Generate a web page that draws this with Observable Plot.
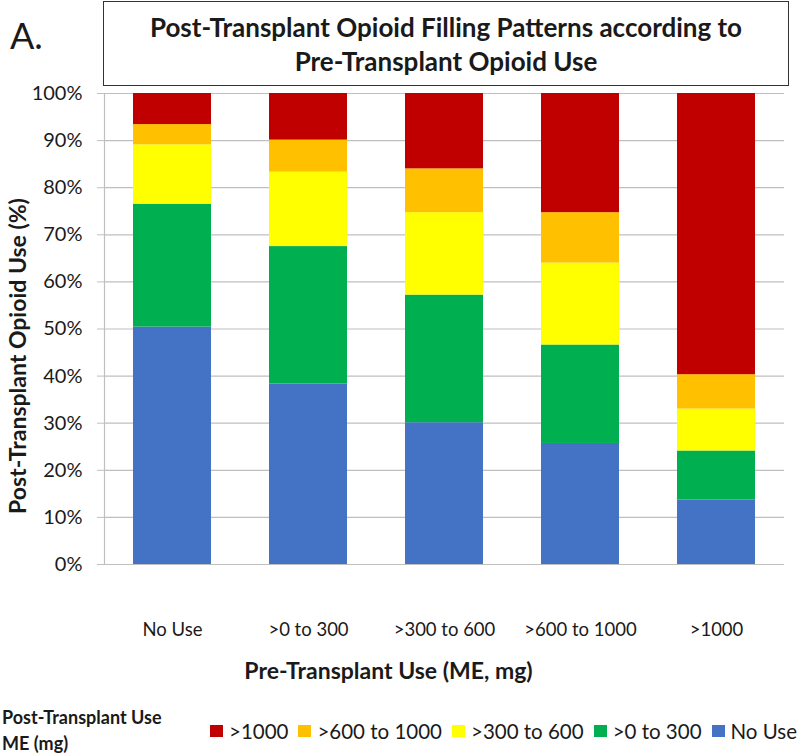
<!DOCTYPE html>
<html>
<head>
<meta charset="utf-8">
<script src="https://cdn.jsdelivr.net/npm/d3@7"></script>
<script src="https://cdn.jsdelivr.net/npm/@observablehq/plot@0.6"></script>
<style>
  body { margin: 0; background: #fff; font-family: Lato, "Open Sans", sans-serif; color: #1a1a1a; }
  #wrap { position: relative; width: 800px; height: 753px; overflow: hidden; }
  #panel { position: absolute; left: 10px; top: 17px; font-size: 36px; line-height: 1; }
  #titlebox { position: absolute; left: 103px; top: 1px; width: 686px; height: 85px; border: 1.5px solid #333;
    box-sizing: border-box; display: flex; align-items: center; justify-content: center; text-align: center;
    font-weight: bold; font-size: 26px; line-height: 34px; }
  #legtitle { position: absolute; left: 2px; top: 704px; font-weight: bold; font-size: 18px; line-height: 26px; white-space: nowrap; }
  #legend { position: absolute; left: 210px; top: 719px; display: flex; font-size: 20.5px; line-height: 24px; align-items: center; white-space: nowrap; }
  .item { display: flex; align-items: center; margin-right: 10px; }
  .sw { width: 13px; height: 12px; margin-right: 6px; }
  svg text { font-family: Lato, "Open Sans", sans-serif; }
</style>
</head>
<body>
<div id="wrap">
  <div id="chart"></div>
  <div id="panel">A.</div>
  <div id="titlebox"><div>Post-Transplant Opioid Filling Patterns according to<br>Pre-Transplant Opioid Use</div></div>
  <div id="legtitle">Post-Transplant Use<br>ME (mg)</div>
  <div id="legend"></div>
</div>
<script>
const categories = ["No Use", ">0 to 300", ">300 to 600", ">600 to 1000", ">1000"];
const series = ["No Use", ">0 to 300", ">300 to 600", ">600 to 1000", ">1000"];
const colors = ["#4472C4", "#00B050", "#FFFF00", "#FFC000", "#C00000"];
const noUse      = [50.4, 38.3, 30.1, 25.7, 13.7];
const gt0to300   = [26.1, 29.2, 27.1, 20.9, 10.4];
const gt300to600 = [12.6, 15.8, 17.5, 17.4, 8.9];
const gt600to1000= [4.3, 6.8, 9.3, 10.7, 7.3];
const gt1000     = [6.6, 9.9, 16.0, 25.3, 59.7];
const yTicks = [0, 10, 20, 30, 40, 50, 60, 70, 80, 90, 100];
const legendOrder = [">1000", ">600 to 1000", ">300 to 600", ">0 to 300", "No Use"];

const seriesValues = [noUse, gt0to300, gt300to600, gt600to1000, gt1000];
const data = [];
series.forEach((s, i) => categories.forEach((c, j) => data.push({category: c, series: s, value: seriesValues[i][j]})));

const chart = Plot.plot({
  width: 800, height: 753,
  marginLeft: 104, marginRight: 16, marginTop: 93, marginBottom: 189,
  style: {fontFamily: "Lato, 'Open Sans', sans-serif", color: "#1a1a1a", background: "transparent"},
  x: {domain: categories, paddingInner: 0.426, paddingOuter: 0.213},
  y: {domain: [0, 100]},
  color: {domain: series, range: colors},
  marks: [
    Plot.gridY(yTicks, {stroke: "#bfbfbf", strokeOpacity: 1, strokeWidth: 1.2}),
    Plot.barY(data, Plot.stackY({x: "category", y: "value", fill: "series", order: series})),
    Plot.ruleY([0], {stroke: "#bfbfbf", strokeWidth: 1.2}),
    Plot.frame({anchor: "left", stroke: "#bfbfbf", strokeWidth: 1.2}),
    Plot.axisY(yTicks, {tickSize: 7, tickPadding: 15, fontSize: 20, stroke: "#bfbfbf", strokeOpacity: 1, tickFormat: d => d + "%", label: null}),
    Plot.axisX({tickSize: 0, tickPadding: 58, fontSize: 18.5, label: null}),
    Plot.text(["Pre-Transplant Use (ME, mg)"], {frameAnchor: "bottom", dy: 114, dx: -56, fontSize: 23, fontWeight: "bold", fill: "#1a1a1a"}),
    Plot.text(["Post-Transplant Opioid Use (%)"], {frameAnchor: "left", textAnchor: "middle", dx: -86, dy: 27, rotate: -90, fontSize: 23, fontWeight: "bold", fill: "#1a1a1a"})
  ]
});
document.getElementById("chart").appendChild(chart);

const leg = document.getElementById("legend");
legendOrder.forEach(s => {
  const it = document.createElement("div"); it.className = "item";
  const sw = document.createElement("div"); sw.className = "sw"; sw.style.background = colors[series.indexOf(s)];
  const t = document.createElement("span"); t.textContent = s;
  it.appendChild(sw); it.appendChild(t); leg.appendChild(it);
});
</script>
</body>
</html>
